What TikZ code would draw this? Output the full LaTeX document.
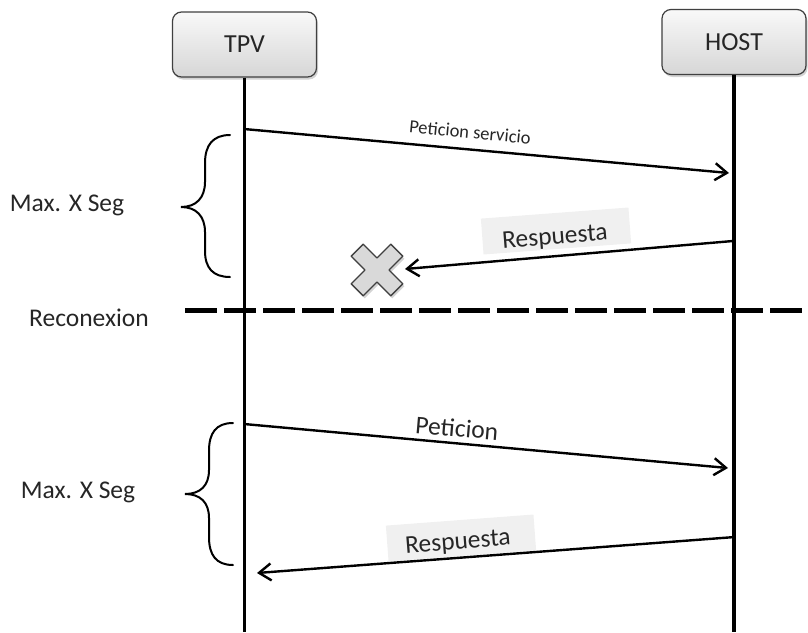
\documentclass[tikz,border=0pt]{standalone}
\usepackage{fontspec}
\setmainfont{Carlito}
\usetikzlibrary{arrows.meta,shadows}
\begin{document}
\begin{tikzpicture}[x=1pt,y=-1pt,
  actor/.style={draw=black!75, line width=1.2pt, rounded corners=9pt,
    top color=gray!5, bottom color=gray!32,
    drop shadow={opacity=0.35,shadow xshift=1.5pt,shadow yshift=-2.5pt},
    minimum width=144pt, minimum height=65pt,
    font=\fontsize{26}{30}\selectfont, text=black!85},
  life/.style={line width=3.8pt},
  msg/.style={line width=2.4pt, -{Straight Barb[length=12pt,width=17pt,line width=2.4pt]}},
  lbl/.style={font=\fontsize{25.5}{30}\selectfont, text=black!85, inner sep=0pt},
  smalllbl/.style={font=\fontsize{18.5}{22}\selectfont, text=black!85, inner sep=0pt},
  respbg/.style={fill=gray!12, draw=none, minimum width=148pt, minimum height=36pt, inner sep=0pt},
  bracestyle/.style={line width=2pt, line cap=round},
  sep/.style={line width=5pt, dash pattern=on 32pt off 7pt},
  xshape/.style={draw=black!75, line width=1.3pt, fill=gray!30, line join=round,
    drop shadow={opacity=0.35,shadow xshift=1.5pt,shadow yshift=-2.5pt}}
]
\useasboundingbox (0,0) rectangle (808,632);

% actors
\node[actor] (tpv) at (244.5,44.5) {TPV};
\node[actor] (host) at (734,42) {HOST};
\coordinate (tpvend) at (244.5,632);
\coordinate (hostend) at (734,632);
\draw[life] (tpv.south) -- (tpvend);
\draw[life] (host.south) -- (hostend);

% message endpoints
\coordinate (a1s) at (244,129);
\coordinate (a1e) at (729,173);
\coordinate (a2s) at (733,241);
\coordinate (a2e) at (405,269);
\coordinate (a3s) at (244,424);
\coordinate (a3e) at (728,468);
\coordinate (a4s) at (735,537);
\coordinate (a4e) at (257,573);

% label backgrounds
\node[respbg, rotate=4.3] (bg1) at (556,231) {};
\node[respbg, rotate=4.3] (bg2) at (461,538) {};

% messages
\draw[msg] (a1s) -- (a1e);
\node[smalllbl, rotate=-5.5] (l1) at (470,132) {Peticion servicio};
\draw[msg] (a2s) -- (a2e);
\node[lbl, rotate=4.5] (l2) at (555,238) {Respuesta};
\draw[msg] (a3s) -- (a3e);
\node[lbl, rotate=-4.8] (l3) at (457,428) {Peticion};
\draw[msg] (a4s) -- (a4e);
\node[lbl, rotate=4.5] (l4) at (458,543) {Respuesta};

% X mark
\begin{scope}[shift={(377,270)}, rotate=45]
\draw[xshape] (8.5,8.5) -- (28,8.5) -- (28,-8.5) -- (8.5,-8.5) -- (8.5,-28) -- (-8.5,-28) -- (-8.5,-8.5)
  -- (-28,-8.5) -- (-28,8.5) -- (-8.5,8.5) -- (-8.5,28) -- (8.5,28) -- cycle;
\end{scope}

% separator
\coordinate (sepl) at (185,310);
\coordinate (sepr) at (808,310);
\draw[sep] (sepl) -- (sepr);
\node[lbl] (recon) at (89,318) {Reconexion};

% braces
\draw[bracestyle] (230,135) .. controls (213,135) and (205,145) .. (205,163) -- (205,182)
  .. controls (205,198) and (196,207) .. (181,207)
  .. controls (196,207) and (205,216) .. (205,232) -- (205,251)
  .. controls (205,268) and (213,277) .. (230,277);
\node[lbl] (max1) at (67,205) {Max. X Seg};

\draw[bracestyle] (233,423) .. controls (216,423) and (209,433) .. (209,451) -- (209,470)
  .. controls (209,486) and (200,494) .. (185,494)
  .. controls (200,494) and (209,502) .. (209,518) -- (209,537)
  .. controls (209,555) and (216,565) .. (233,565);
\node[lbl] (max2) at (78,492) {Max. X Seg};
\end{tikzpicture}
\end{document}
